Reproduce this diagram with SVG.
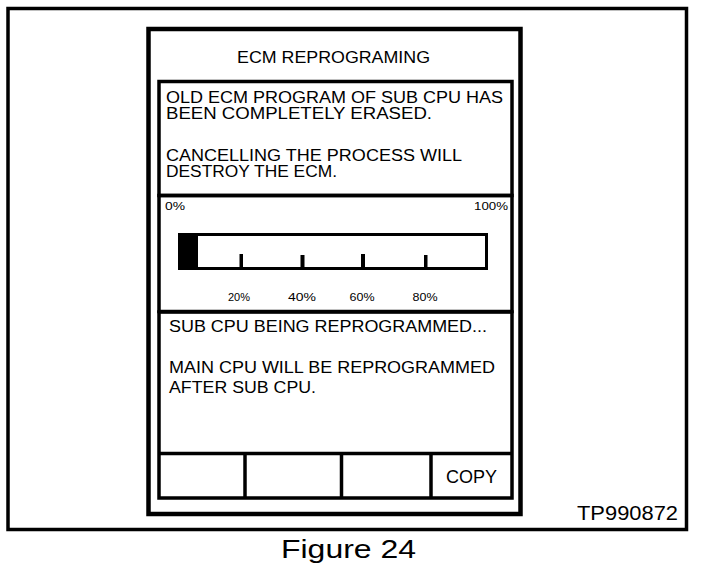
<svg xmlns="http://www.w3.org/2000/svg" width="704" height="578" viewBox="0 0 704 578">
<style>
  .frame{fill:none;stroke:#000}
  .t{font-family:"Liberation Sans",Arial,sans-serif;fill:#000}
  .msg{font-size:16px}
  .pct{font-size:11px}
</style>
<rect x="0" y="0" width="704" height="578" fill="#fff"/>
<g id="outer-frame">
  <rect class="frame" x="8" y="8.5" width="678.5" height="521" stroke-width="3.5"/>
  <text class="t" x="577" y="520" font-size="19.5" textLength="101" lengthAdjust="spacingAndGlyphs">TP990872</text>
</g>
<g id="panel">
  <rect class="frame" x="148.5" y="29" width="372" height="485" stroke-width="4.5"/>
  <text class="t" x="237" y="63" font-size="16.5" textLength="193" lengthAdjust="spacingAndGlyphs">ECM REPROGRAMING</text>
</g>
<g id="message-top">
  <rect class="frame" x="159" y="81.5" width="353" height="114" stroke-width="3.5"/>
  <text class="t msg" x="166" y="103" textLength="337" lengthAdjust="spacingAndGlyphs">OLD ECM PROGRAM OF SUB CPU HAS</text>
  <text class="t msg" x="166" y="119" textLength="266" lengthAdjust="spacingAndGlyphs">BEEN COMPLETELY ERASED.</text>
  <text class="t msg" x="166" y="161" textLength="296" lengthAdjust="spacingAndGlyphs">CANCELLING THE PROCESS WILL</text>
  <text class="t msg" x="166" y="177" textLength="171" lengthAdjust="spacingAndGlyphs">DESTROY THE ECM.</text>
</g>
<g id="progress">
  <rect class="frame" x="159" y="195.5" width="353" height="116" stroke-width="3.5"/>
  <text class="t pct" x="165" y="210" textLength="20" lengthAdjust="spacingAndGlyphs">0%</text>
  <text class="t pct" x="508" y="210" text-anchor="end" textLength="34" lengthAdjust="spacingAndGlyphs">100%</text>
  <rect class="frame" x="179.5" y="234.5" width="307" height="34" stroke-width="3"/>
  <rect x="178" y="233" width="20" height="37" fill="#000"/>
  <g fill="#000">
    <rect x="239.5" y="254" width="3.5" height="14"/>
    <rect x="300.5" y="255" width="4" height="13"/>
    <rect x="361" y="254" width="4" height="14"/>
    <rect x="424" y="255" width="3.5" height="13"/>
  </g>
  <text class="t pct" x="239" y="301" text-anchor="middle" textLength="22" lengthAdjust="spacingAndGlyphs">20%</text>
  <text class="t pct" x="302" y="301" text-anchor="middle" textLength="28" lengthAdjust="spacingAndGlyphs">40%</text>
  <text class="t pct" x="362" y="301" text-anchor="middle" textLength="25" lengthAdjust="spacingAndGlyphs">60%</text>
  <text class="t pct" x="425" y="301" text-anchor="middle" textLength="25" lengthAdjust="spacingAndGlyphs">80%</text>
</g>
<g id="message-bottom">
  <rect class="frame" x="159" y="312" width="353" height="186" stroke-width="3.5"/>
  <text class="t msg" x="169" y="332" textLength="318" lengthAdjust="spacingAndGlyphs">SUB CPU BEING REPROGRAMMED...</text>
  <text class="t msg" x="169" y="373" textLength="326" lengthAdjust="spacingAndGlyphs">MAIN CPU WILL BE REPROGRAMMED</text>
  <text class="t msg" x="169" y="393" textLength="147" lengthAdjust="spacingAndGlyphs">AFTER SUB CPU.</text>
</g>
<g id="buttons">
  <line class="frame" x1="159" y1="453.5" x2="512" y2="453.5" stroke-width="3.5"/>
  <line class="frame" x1="245" y1="453.5" x2="245" y2="498" stroke-width="3.5"/>
  <line class="frame" x1="341.5" y1="453.5" x2="341.5" y2="498" stroke-width="3.5"/>
  <line class="frame" x1="431" y1="453.5" x2="431" y2="498" stroke-width="3.5"/>
  <text class="t" x="446" y="483" font-size="17.5" textLength="51" lengthAdjust="spacingAndGlyphs">COPY</text>
</g>
<text class="t" x="281" y="558" font-size="25" textLength="135" lengthAdjust="spacingAndGlyphs">Figure 24</text>
</svg>
